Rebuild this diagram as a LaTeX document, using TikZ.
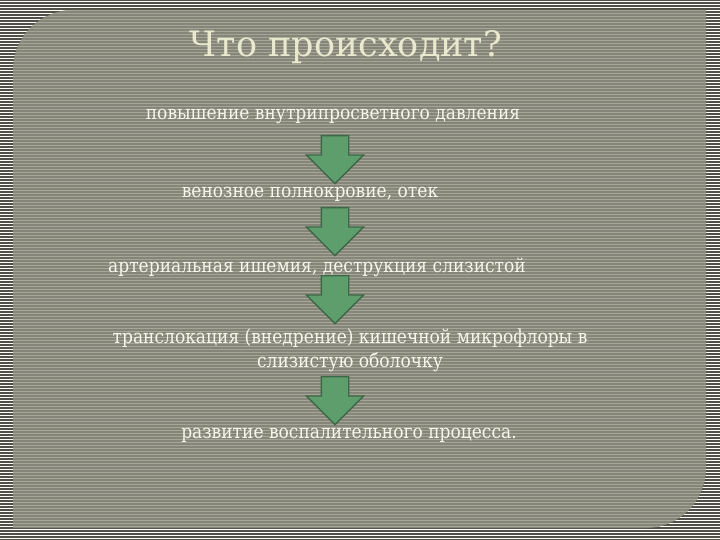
\documentclass[tikz,border=0pt]{standalone}
\usepackage{fontspec}
\setmainfont{DejaVu Serif}[FakeStretch=0.88]
\newfontfamily\titlefont{DejaVu Serif}
\usetikzlibrary{shapes.arrows}

\definecolor{stripedark}{HTML}{505046}
\definecolor{panelbg}{HTML}{85857A}
\definecolor{panelline}{HTML}{A6A696}
\definecolor{txtcol}{HTML}{F6F6EC}
\definecolor{titlecol}{HTML}{E9E9CF}
\definecolor{arrowgreen}{HTML}{5E9E6C}
\definecolor{arrowedge}{HTML}{3C6846}

\begin{document}
\begin{tikzpicture}[x=1pt,y=-1pt,
  step node/.style={text=txtcol,font=\fontsize{19.4}{24}\selectfont,align=center,anchor=base},
  down arrow/.style={single arrow,rotate=-90,anchor=tail,fill=arrowgreen,draw=arrowedge,
    line width=1.4pt,inner xsep=0pt,inner ysep=13pt,single arrow head extend=15pt,minimum height=48pt}]

  \useasboundingbox (0,0) rectangle (720,540);

  % striped background
  \fill[stripedark] (0,0) rectangle (720,540);
  \foreach \y in {1.5,4.5,...,540}
    \draw[white,line width=1.5pt] (0,\y) -- (720,\y);

  % panel
  \fill[panelbg] (13,528) -- (13,70) .. controls (13,36.9) and (39.9,10) .. (73,10)
    -- (706,10) -- (706,468) .. controls (706,501.1) and (679.1,528) .. (646,528) -- cycle;
  \begin{scope}
    \clip (13,528) -- (13,70) .. controls (13,36.9) and (39.9,10) .. (73,10)
      -- (706,10) -- (706,468) .. controls (706,501.1) and (679.1,528) .. (646,528) -- cycle;
    \foreach \y in {1.5,4.5,...,540}
      \draw[panelline,line width=1.3pt] (0,\y) -- (720,\y);
  \end{scope}

  \node[text=titlecol,font=\titlefont\fontsize{35}{40}\selectfont,anchor=base] (title) at (346,57) {Что происходит?};

  \node[step node] (1) at (333,120) {повышение внутрипросветного давления};
  \node[step node] (2) at (310,197) {венозное полнокровие, отек};
  \node[step node] (3) at (317,272) {артериальная ишемия, деструкция слизистой};
  \node[step node] (4) at (350,367) {транслокация (внедрение) кишечной микрофлоры в\\слизистую оболочку};
  \node[step node] (5) at (349,438) {развитие воспалительного процесса.};

  \node[down arrow] (a1) at (335,135) {};
  \node[down arrow] (a2) at (335,207) {};
  \node[down arrow] (a3) at (335,275) {};
  \node[down arrow] (a4) at (335,376) {};
\end{tikzpicture}
\end{document}
